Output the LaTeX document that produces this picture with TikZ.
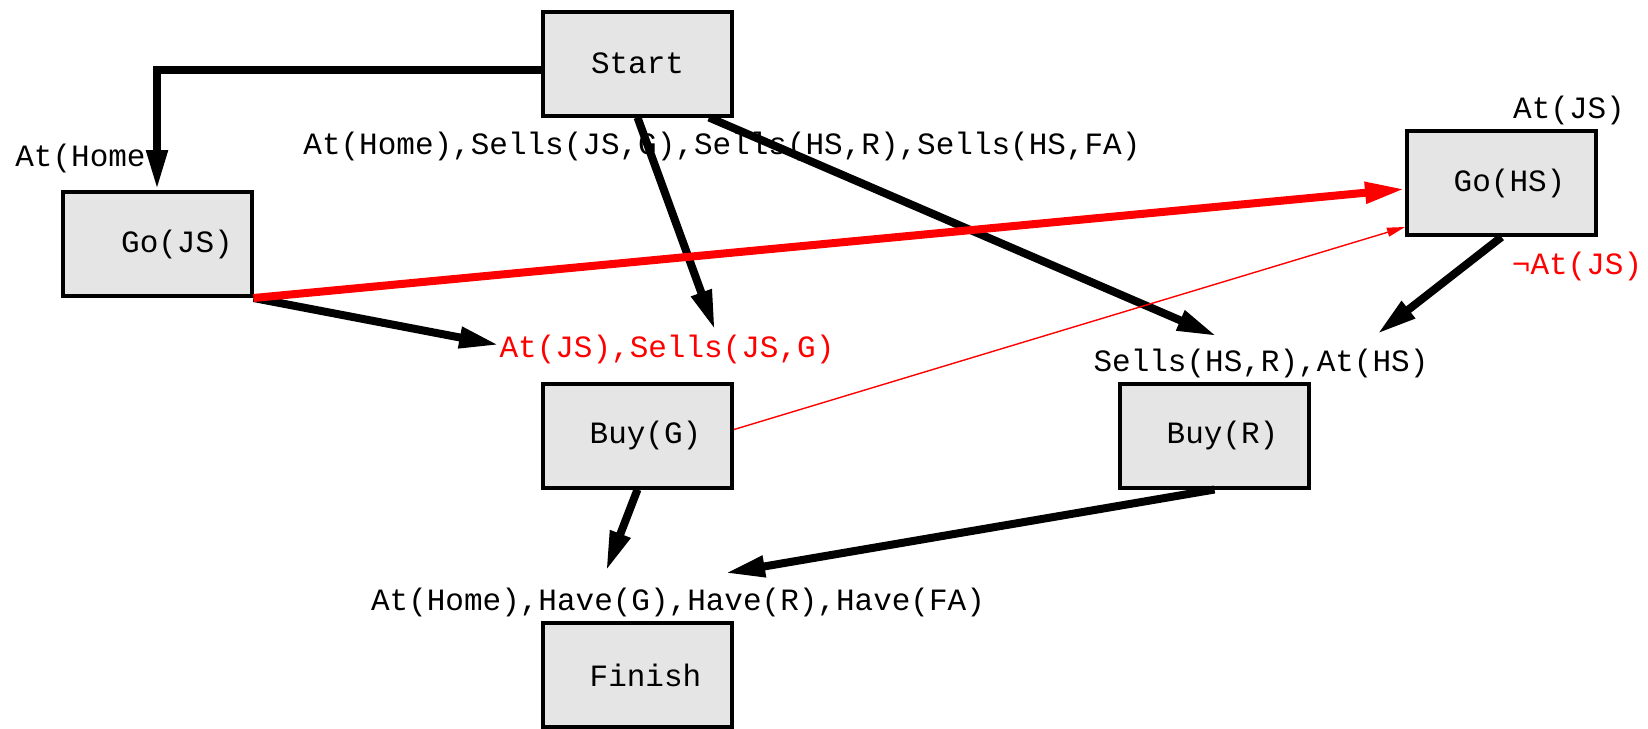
\documentclass[tikz,border=0pt]{standalone}
\usepackage{fontspec}
\setmonofont{Liberation Mono}
\usetikzlibrary{arrows.meta, positioning}

\begin{document}
\begin{tikzpicture}[x=0.5pt, y=-0.5pt, font=\ttfamily\fontsize{15.5}{18}\selectfont,
        action/.style={draw, fill=black!10, line width=2pt, minimum width=94.5pt, minimum height=52pt, inner sep=0pt},
        nudge/.style={execute at begin node=\hspace*{#1}},
        cond/.style={inner sep=0pt},
        link/.style={line width=4pt, -{Triangle[length=20pt, width=10pt]}},
        threat/.style={red, line width=4pt, -{Triangle[length=20pt, width=10pt]}},
        weak/.style={red, line width=0.7pt, -{Triangle[length=9pt, width=4.5pt]}}]
    \useasboundingbox (0,0) rectangle (1648,728);

    % steps of the plan
    \node[action] (start) at (637.5, 63.5) {Start};
    \node[action, nudge=20pt] (gojs) at (157, 244) {Go(JS)};
    \node[action, nudge=8pt] (gohs) at (1501.5, 183) {Go(HS)};
    \node[action, nudge=8pt] (buyg) at (637.5, 435.5) {Buy(G)};
    \node[action, nudge=8pt] (buyr) at (1214.5, 435.5) {Buy(R)};
    \node[action, nudge=8pt] (finish) at (637.5, 675) {Finish};

    % conditions
    \node[cond, anchor=east] (athome) at (146, 158) {At(Home};
    \node[cond] (init) at (722, 146) {At(Home),Sells(JS,G),Sells(HS,R),Sells(HS,FA)};
    \node[cond] (pregohs) at (1569, 110) {At(JS)};
    \node[cond, red] (effgohs) at (1577, 266) {¬At(JS)};
    \node[cond, red] (prebuyg) at (667, 349) {At(JS),Sells(JS,G)};
    \node[cond] (prebuyr) at (1261, 363) {Sells(HS,R),At(HS)};
    \node[cond] (goal) at (678, 602) {At(Home),Have(G),Have(R),Have(FA)};

    % causal links
    \draw[link] ([yshift=-3pt]start.west) -| (gojs.north);
    \draw[link] (start.south) -- ([xshift=24pt, yshift=2pt]prebuyg.north);
    \draw[link] ([xshift=-12.5pt]start.south east) -- ([xshift=-22pt, yshift=6pt]prebuyr.north);
    \draw[link] (gojs.south east) -- ([yshift=2pt]prebuyg.west);
    \draw[link] (gohs.south) -- ([xshift=58pt, yshift=7pt]prebuyr.north);
    \draw[link] (buyg.south) -- ([xshift=-36pt, yshift=8pt]goal.north);
    \draw[link] (buyr.south) -- ([xshift=23.5pt, yshift=7pt]goal.north);

    % ordering against the threat
    \draw[threat] (gojs.south east) -- ([yshift=-3pt]gohs.west);
    \draw[weak] ([yshift=3pt]buyg.east) -- ([yshift=5pt]gohs.south west);
\end{tikzpicture}
\end{document}
